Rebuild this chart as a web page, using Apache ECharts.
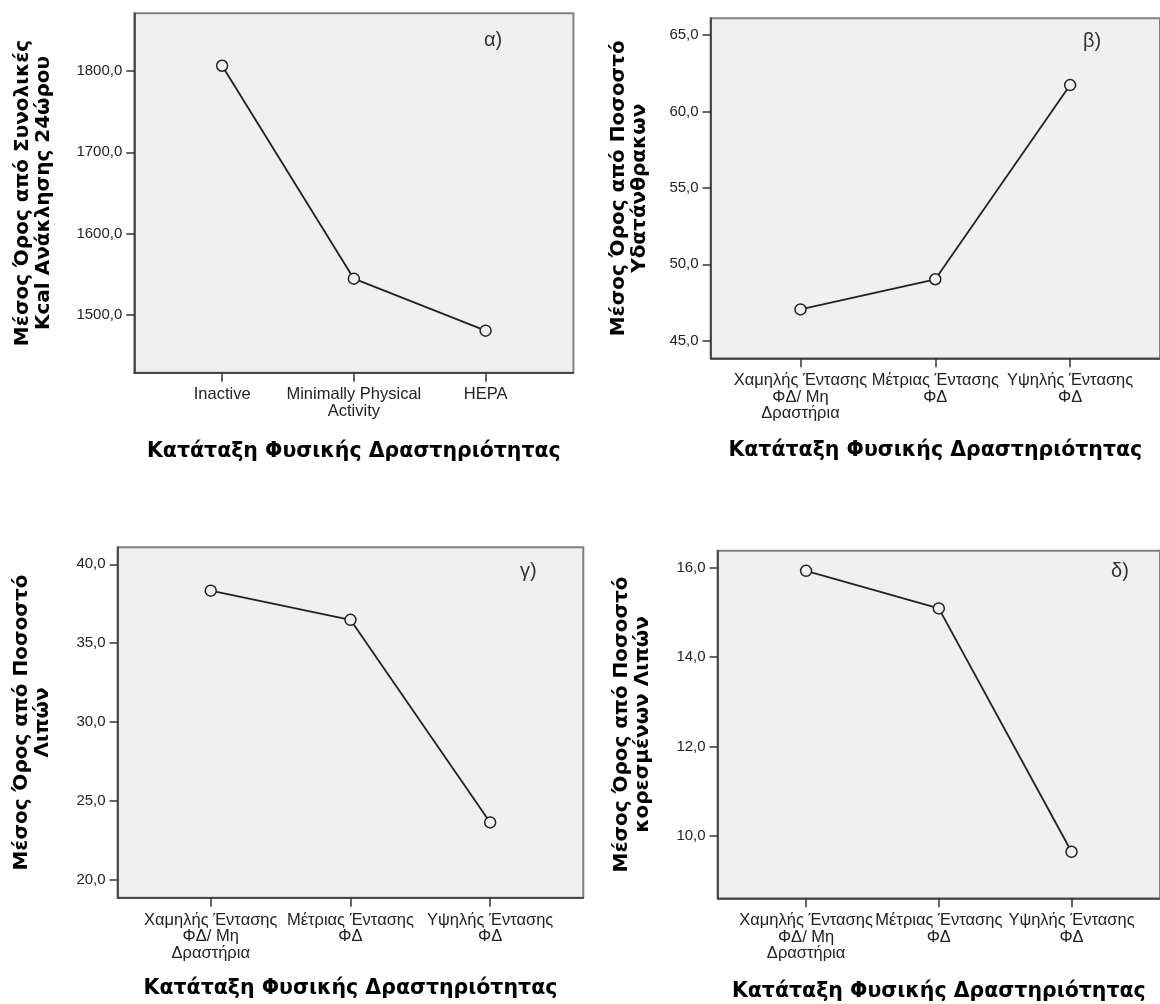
<!DOCTYPE html>
<html><head><meta charset="utf-8">
<script src="https://cdn.jsdelivr.net/npm/echarts@6/dist/echarts.min.js"></script>
<style>html,body{margin:0;padding:0;background:#fff;overflow:hidden}#c{width:1160px;height:1004px}</style>
</head><body><div id="c"></div>
<script>
// ---- data ----
const categoriesA = ['Inactive', 'Minimally Physical\nActivity', 'HEPA'];
const categoriesB = ['Χαμηλής Έντασης\nΦΔ/ Μη\nΔραστήρια', 'Μέτριας Έντασης\nΦΔ', 'Υψηλής Έντασης\nΦΔ'];
const kcalMeans = [1806.5, 1544.6, 1480.7];
const carbMeans = [47.05, 49.02, 61.72];
const fatMeans = [38.33, 36.48, 23.63];
const satFatMeans = [15.93, 15.09, 9.65];
const kcalTicks = [1500, 1600, 1700, 1800];
const carbTicks = [45, 50, 55, 60, 65];
const fatTicks = [20, 25, 30, 35, 40];
const satFatTicks = [10, 12, 14, 16];
const xTitle = 'Κατάταξη Φυσικής Δραστηριότητας';
const yTitleA = 'Μέσος Όρος από Συνολικές\nKcal Ανάκλησης 24ώρου';
const yTitleB = 'Μέσος Όρος από Ποσοστό\nΥδατάνθρακων';
const yTitleC = 'Μέσος Όρος από Ποσοστό\nΛιπών';
const yTitleD = 'Μέσος Όρος από Ποσοστό\nκορεσμένων Λιπών';
const panelLabels = ['α)', 'β)', 'γ)', 'δ)'];

// ---- layout ----
const panels = [
  {cats: categoriesA, vals: kcalMeans, ticks: kcalTicks, yTitle: yTitleA,
   left: 134.3, top: 13.3, width: 439.1, height: 359.4, yMin: 1429, yMax: 1871,
   gapY: 80, gapX: 68.5, lx: 496, ly: 42},
  {cats: categoriesB, vals: carbMeans, ticks: carbTicks, yTitle: yTitleB,
   left: 710.6, top: 18.3, width: 452, height: 340, yMin: 43.85, yMax: 66.09,
   gapY: 60, gapX: 81.5, lx: 1095, ly: 43},
  {cats: categoriesB, vals: fatMeans, ticks: fatTicks, yTitle: yTitleC,
   left: 117.6, top: 547.3, width: 465.7, height: 350.5, yMin: 18.85, yMax: 41.08,
   gapY: 64, gapX: 80, lx: 532, ly: 573},
  {cats: categoriesB, vals: satFatMeans, ticks: satFatTicks, yTitle: yTitleD,
   left: 717.6, top: 550.7, width: 462.3, height: 347.6, yMin: 8.61, yMax: 16.38,
   gapY: 64, gapX: 83, lx: 1123, ly: 573}
];

const grid = [], xAxis = [], yAxis = [], series = [], graphic = [];
panels.forEach((p, i) => {
  grid.push({left: p.left, top: p.top, width: p.width, height: p.height, show: true,
    backgroundColor: '#f0f0f0', borderColor: '#808080', borderWidth: 2});
  xAxis.push({type: 'value', gridIndex: i, min: -2/3, max: 8/3,
    name: xTitle, nameLocation: 'middle', nameGap: p.gapX,
    nameTextStyle: {fontFamily: 'DejaVu Sans', fontWeight: 'bold', fontSize: 20.5, lineHeight: 21, color: '#000'},
    axisLine: {show: true, onZero: false, lineStyle: {color: '#333', width: 1.5}},
    axisTick: {show: true, length: 9, customValues: [0, 1, 2], lineStyle: {color: '#333', width: 1.5}},
    axisLabel: {customValues: [0, 1, 2], margin: 14, fontFamily: 'Liberation Sans', fontSize: 16.5,
      lineHeight: 16.5, color: '#222', hideOverlap: false, formatter: v => p.cats[Math.round(v)]},
    splitLine: {show: false}});
  yAxis.push({type: 'value', gridIndex: i, min: p.yMin, max: p.yMax,
    name: p.yTitle, nameLocation: 'middle', nameGap: p.gapY, nameRotate: 90,
    nameTextStyle: {fontFamily: 'DejaVu Sans', fontWeight: 'bold', fontSize: 20, lineHeight: 21, color: '#000'},
    axisLine: {show: true, onZero: false, lineStyle: {color: '#333', width: 1.5}},
    axisTick: {show: true, length: 8, customValues: p.ticks, lineStyle: {color: '#333', width: 1.5}},
    axisLabel: {customValues: p.ticks, margin: 12, fontFamily: 'Liberation Sans', fontSize: 15, color: '#222',
      hideOverlap: false, formatter: v => v.toFixed(1).replace('.', ',')},
    splitLine: {show: false}});
  series.push({type: 'line', xAxisIndex: i, yAxisIndex: i,
    data: p.vals.map((v, k) => [k, v]),
    symbol: 'circle', symbolSize: 11,
    lineStyle: {color: '#222', width: 1.8},
    itemStyle: {color: '#f0f0f0', borderColor: '#222', borderWidth: 1.5}});
  graphic.push({type: 'text', left: p.lx - 12, top: p.ly - 12,
    style: {text: panelLabels[i], fontFamily: 'Liberation Sans', fontSize: 20, fill: '#333'}});
});

const chart = echarts.init(document.getElementById('c'), null, {renderer: 'canvas'});
chart.setOption({animation: false, grid, xAxis, yAxis, series, graphic});
</script></body></html>
